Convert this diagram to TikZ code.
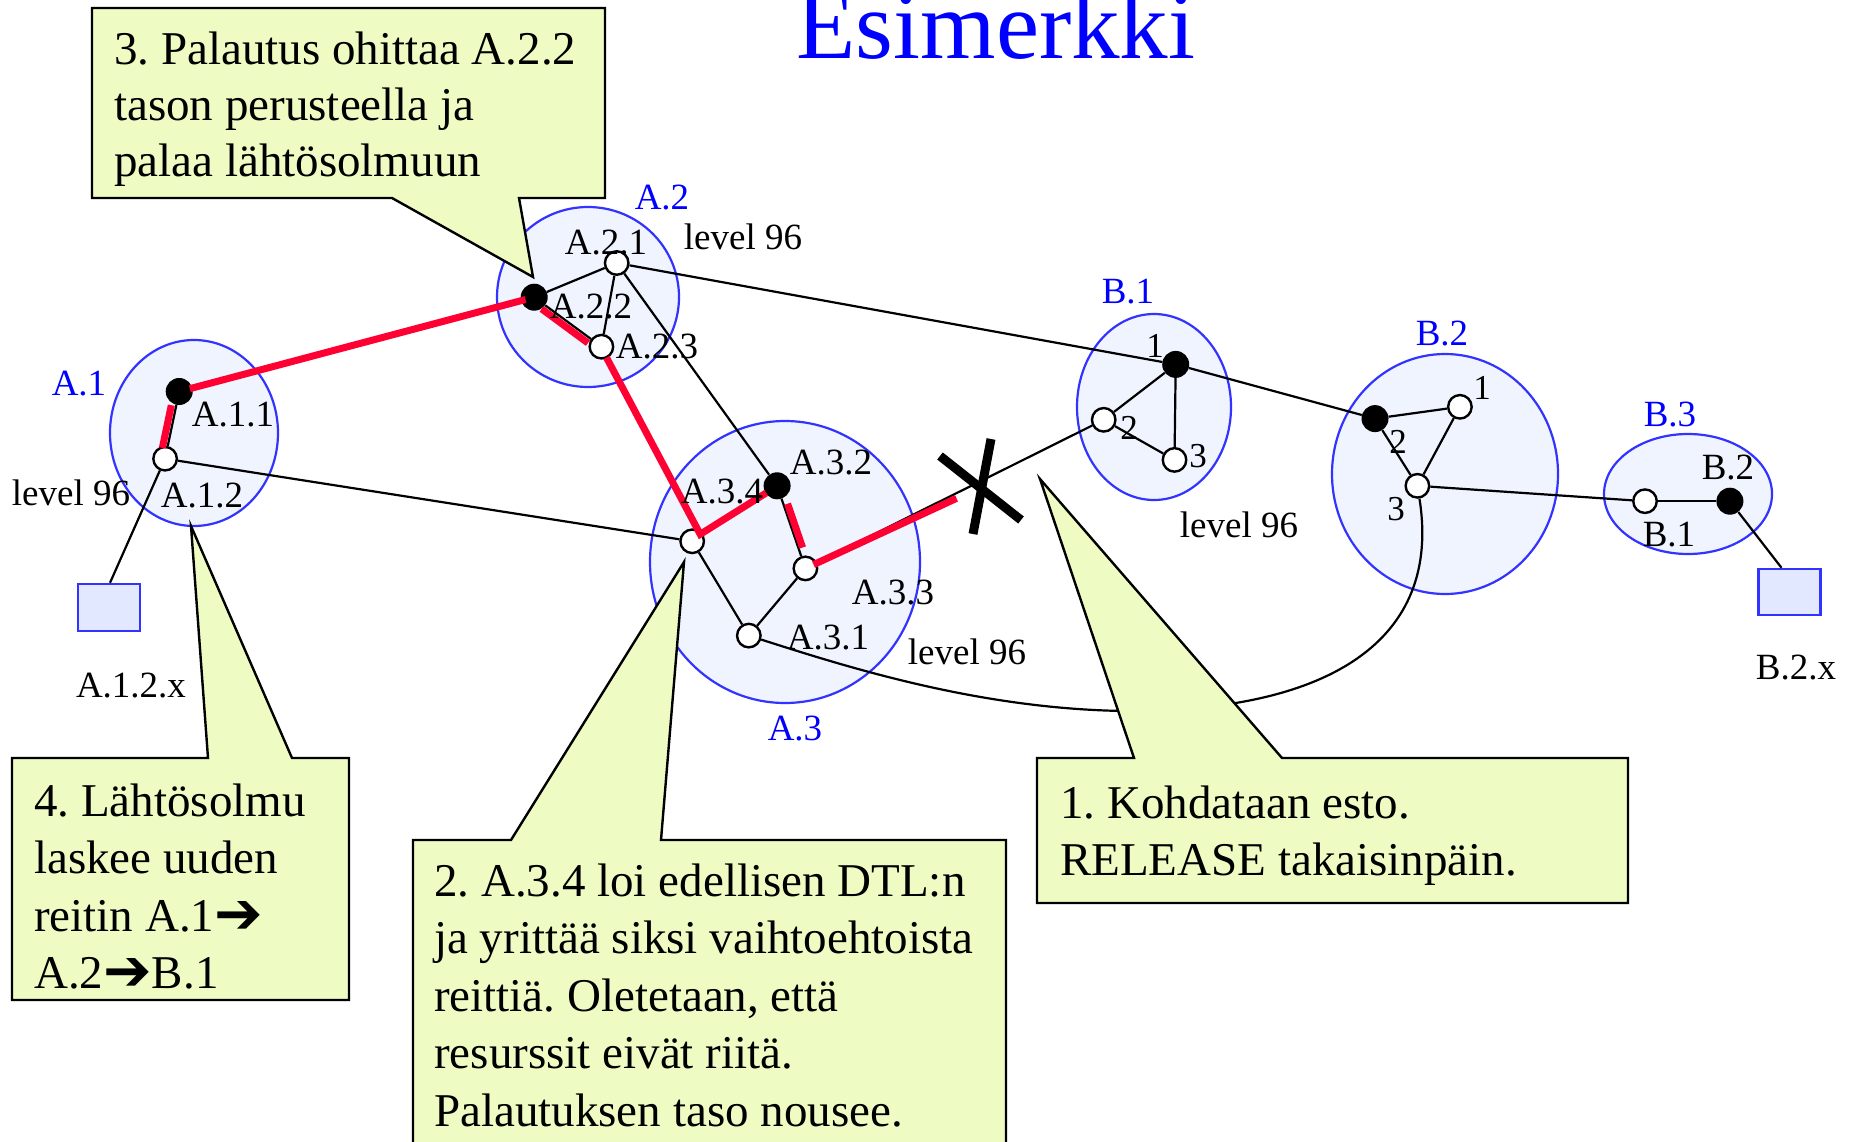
\documentclass[tikz,border=0pt]{standalone}
\usepackage{fontspec}
\setmainfont{Liberation Serif}
\newfontfamily\arrowfont{DejaVu Sans}
\usetikzlibrary{calc,shapes.geometric,backgrounds}
\definecolor{clfill}{RGB}{240,244,255}
\definecolor{clline}{RGB}{51,51,255}
\definecolor{sqfill}{RGB}{226,232,255}
\definecolor{callfill}{RGB}{238,252,196}
\definecolor{pathred}{RGB}{255,0,51}
\definecolor{titleblue}{RGB}{0,0,255}
\pgfdeclarelayer{clusterlayer}
\pgfdeclarelayer{edgelayer}
\pgfdeclarelayer{calloutlayer}
\pgfsetlayers{clusterlayer,edgelayer,main,calloutlayer}
\newcommand{\rarr}{{\fontsize{58}{57}\arrowfont\raisebox{-2pt}{➔}}}
\frenchspacing
\begin{document}
\begin{tikzpicture}[x=1pt,y=-1pt,
  cluster/.style={ellipse,draw=clline,fill=clfill,line width=2.2pt,inner sep=0pt},
  sqbox/.style={rectangle,draw=clline,fill=sqfill,line width=2.4pt,inner sep=0pt},
  edge/.style={line width=2.2pt,black},
  redpath/.style={pathred,line width=7pt},
  wnode/.style={circle,draw=black,fill=white,line width=2.4pt,minimum size=23.5pt,inner sep=0pt},
  bnode/.style={circle,fill=black,minimum size=27pt,inner sep=0pt},
  lbl/.style={font=\fontsize{37}{44}\selectfont,inner sep=0pt},
  blbl/.style={lbl,text=titleblue},
  dlbl/.style={font=\fontsize{35}{42}\selectfont,inner sep=0pt},
  ctext/.style={font=\fontsize{47}{57}\selectfont,anchor=base west,inner sep=0pt},
  callout/.style={draw=black,fill=callfill,line width=2.4pt,line join=miter},
  xstroke/.style={line width=9pt,black}]
\useasboundingbox (0,0) rectangle (1849,1142);
\clip (0,0) rectangle (1849,1142);

% title
\node[font=\fontsize{97}{105}\selectfont,text=titleblue,anchor=base,inner sep=0pt] (title) at (996,59) {Esimerkki};

% clusters
\begin{pgfonlayer}{clusterlayer}
\node[cluster,minimum width=168pt,minimum height=186pt] (A1) at (194,433) {};
\node[cluster,minimum width=182pt,minimum height=180pt] (A2) at (588,297) {};
\node[cluster,minimum width=270pt,minimum height=282pt] (A3) at (785,562) {};
\node[cluster,minimum width=154pt,minimum height=186pt] (B1) at (1154,407) {};
\node[cluster,minimum width=226pt,minimum height=240pt] (B2) at (1445,474) {};
\node[cluster,minimum width=168pt,minimum height=120pt] (B3) at (1688,494) {};
\node[sqbox,minimum width=62pt,minimum height=47pt] (sqA) at (109,607.5) {};
\node[sqbox,minimum width=62pt,minimum height=46pt] (sqB) at (1789.5,592) {};
\end{pgfonlayer}

% network nodes
\node[bnode] (a11) at (179.2,391.5) {};
\node[wnode] (a12) at (165.1,458.7) {};
\node[bnode] (a22) at (534.2,297.2) {};
\node[wnode] (a21) at (616.7,263.0) {};
\node[wnode] (a23) at (601.4,346.7) {};
\node[bnode] (a32) at (777.1,485.8) {};
\node[wnode] (a34) at (692.2,541.3) {};
\node[wnode] (a33) at (805.4,568.4) {};
\node[wnode] (a31) at (748.8,635.6) {};
\node[bnode] (b11) at (1175.7,364.4) {};
\node[wnode] (b12) at (1103.7,419.8) {};
\node[wnode] (b13) at (1174.5,459.9) {};
\node[bnode] (b22) at (1375.0,418.6) {};
\node[wnode] (b21) at (1459.9,406.8) {};
\node[wnode] (b23) at (1417.4,485.8) {};
\node[wnode] (b3b1) at (1645.0,501.2) {};
\node[bnode] (b3b2) at (1729.9,501.2) {};
\coordinate (xmark) at (981,487);
\coordinate (cbot) at (1125,711);

% black edges
\begin{pgfonlayer}{edgelayer}
\draw[edge] (a11) -- (a12);
\draw[edge] (a11) -- (a22);
\draw[edge] (a12) -- ($(sqA.north)+(1,0)$);
\draw[edge] (a12) -- (a34);
\draw[edge] (a22) -- (a21);
\draw[edge] (a22) -- (a23);
\draw[edge] (a21) -- (a23);
\draw[edge] (a21) -- (a32);
\draw[edge] (a21) -- (b11);
\draw[edge] (a32) -- (a33);
\draw[edge] (a33) -- (a31);
\draw[edge] (a34) -- (a31);
\draw[edge] (a33) -- (b12);
\draw[edge] (b11) -- (b12);
\draw[edge] (b11) -- (b13);
\draw[edge] (b12) -- (b13);
\draw[edge] (b11) -- (b22);
\draw[edge] (b22) -- (b21);
\draw[edge] (b21) -- (b23);
\draw[edge] (b22) -- (b23);
\draw[edge] (b23) -- (b3b1);
\draw[edge] (b3b1) -- (b3b2);
\draw[edge] (b3b2) -- ($(sqB.north)+(-8,0)$);
\draw[edge] (a31) .. controls (850,668) and (980,709) .. (cbot)
  .. controls (1330,712) and (1442,640) .. (b23);
\end{pgfonlayer}

% red route
\draw[redpath] ($(a11)!14pt!(a12)+(-5,0)$) -- ($(a12)!11pt!(a11)+(-5,0)$);
\draw[redpath] ($(a11)!11pt!(a22)$) -- ($(a22)!9pt!(a11)$);
\draw[redpath] ($(a22)!13pt!(a23)+(-3,4)$) -- ($(a23)!13pt!(a22)+(-3,4)$);
\draw[redpath,line join=miter] ($(a23)!12pt!(a34)$) -- ($(a34)+(8,-7)$) -- ($(a32)!13pt!(a34)$);
\draw[redpath] ($(a32)!20pt!(a33)+(4,-1)$) -- ($(a33)!21pt!(a32)+(4,-1)$);
\draw[redpath] ($(a33)!9pt!(xmark)$) -- ($(xmark)!27pt!(a33)$);

% blocking cross
\draw[xstroke] ($(xmark)+(10,-48)$) -- ($(xmark)+(-8,47)$);
\draw[xstroke] ($(xmark)+(-41,-31)$) -- ($(xmark)+(40,33)$);

% labels
\node[lbl] (la11) at (233,415) {A.1.1};
\node[lbl] (la12) at (202,496) {A.1.2};
\node[lbl] (la21) at (606,243) {A.2.1};
\node[lbl] (la22) at (591,307) {A.2.2};
\node[lbl] (la23) at (657,347) {A.2.3};
\node[lbl] (la34) at (722,492) {A.3.4};
\node[lbl] (la32) at (831,463) {A.3.2};
\node[lbl] (la33) at (893,593) {A.3.3};
\node[lbl] (la31) at (828,638) {A.3.1};
\node[lbl] (lv1) at (71,493) {level 96};
\node[lbl] (lv2) at (743,237) {level 96};
\node[lbl] (lv3) at (1239,525) {level 96};
\node[lbl] (lv4) at (967,652) {level 96};
\node[lbl] (lsqA) at (131,686) {A.1.2.x};
\node[lbl] (lsqB) at (1796,668) {B.2.x};
\node[blbl] (lA1) at (79,384) {A.1};
\node[blbl] (lA2) at (662,198) {A.2};
\node[blbl] (lA3) at (795,729) {A.3};
\node[blbl] (lB1) at (1128,292) {B.1};
\node[blbl] (lB2) at (1442,334) {B.2};
\node[blbl] (lB3) at (1670,415) {B.3};
\node[dlbl] (lb11) at (1155,346) {1};
\node[dlbl] (lb12) at (1129,428) {2};
\node[dlbl] (lb13) at (1198,456) {3};
\node[dlbl] (lb21) at (1482,388) {1};
\node[dlbl] (lb22) at (1398,442) {2};
\node[dlbl] (lb23) at (1396,509) {3};
\node[lbl] (lb3b2) at (1728,468) {B.2};
\node[lbl] (lb3b1) at (1669,535) {B.1};

% callouts
\begin{pgfonlayer}{calloutlayer}
\coordinate (tip3) at (533,277);
\coordinate (tip4) at (191,526);
\coordinate (tip2) at (684,562);
\coordinate (tip1) at (1040,479);
\draw[callout] (92,8) -- (605,8) -- (605,198) -- (519,198) -- (tip3) -- (392,198) -- (92,198) -- cycle;
\node[ctext] (c3a) at (114,65) {3. Palautus ohittaa A.2.2};
\node[ctext] (c3b) at (114,121) {tason perusteella ja};
\node[ctext] (c3c) at (114,177) {palaa lähtösolmuun};

\draw[callout] (12,758) -- (208,758) -- (tip4) -- (292,758) -- (349,758) -- (349,1000) -- (12,1000) -- cycle;
\node[ctext] (c4a) at (34,816) {4. Lähtösolmu};
\node[ctext] (c4b) at (34,873) {laskee uuden};
\node[ctext] (c4c) at (34,931) {reitin A.1\rarr};
\node[ctext] (c4d) at (34,988) {A.2\rarr B.1};

\draw[callout] (413,840) -- (511,840) -- (tip2) -- (661,840) -- (1006,840) -- (1006,1160) -- (413,1160) -- cycle;
\node[ctext] (c2a) at (434,896) {2. A.3.4 loi edellisen DTL:n};
\node[ctext] (c2b) at (434,953) {ja yrittää siksi vaihtoehtoista};
\node[ctext] (c2c) at (434,1011) {reittiä. Oletetaan, että};
\node[ctext] (c2d) at (434,1068) {resurssit eivät riitä.};
\node[ctext] (c2e) at (434,1126) {Palautuksen taso nousee.};

\draw[callout] (1037,758) -- (1134,758) -- (tip1) -- (1282,758) -- (1628,758) -- (1628,903) -- (1037,903) -- cycle;
\node[ctext] (c1a) at (1060,818) {1. Kohdataan esto.};
\node[ctext] (c1b) at (1060,875) {RELEASE takaisinpäin.};
\end{pgfonlayer}
\end{tikzpicture}
\end{document}
